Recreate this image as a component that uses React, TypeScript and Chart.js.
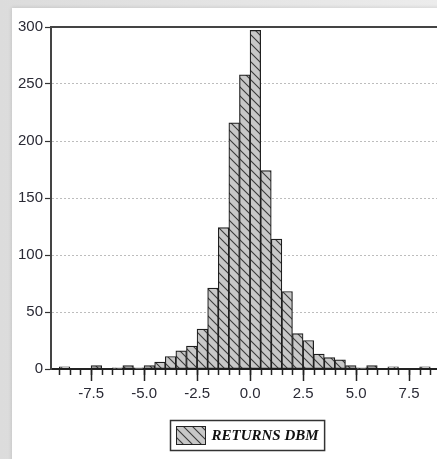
import { useEffect, useRef } from "react";
import { Chart, registerables } from "chart.js";

Chart.register(...registerables);

// Histogram bins: start of each bin (bin width 0.5)
const binStarts = [
  -9, -8.5, -8, -7.5, -7, -6.5, -6, -5.5, -5, -4.5, -4, -3.5, -3, -2.5, -2, -1.5,
  -1, -0.5, 0, 0.5, 1, 1.5, 2, 2.5, 3, 3.5, 4, 4.5, 5, 5.5, 6, 6.5, 7, 7.5, 8, 8.5,
];
const counts = [
  2, 0, 0, 3, 0, 1, 3, 1, 3, 6, 11, 16, 20, 35, 71, 124,
  216, 258, 297, 174, 114, 68, 31, 25, 13, 10, 8, 3, 1, 3, 0, 2, 0, 0, 2, 0,
];
const binWidth = 0.5;
const seriesLabel = "RETURNS DBM";
const xMin = -9.39;
const xMax = 8.96;
const yMax = 300;
const yStep = 50;
const xStep = 2.5;

function makePattern(): CanvasPattern | string {
  const c = document.createElement("canvas");
  c.width = 9;
  c.height = 9;
  const g = c.getContext("2d");
  if (!g) return "#c8c8c8";
  g.fillStyle = "#c8c8c8";
  g.fillRect(0, 0, 9, 9);
  g.strokeStyle = "#3a3a3a";
  g.lineWidth = 1.1;
  g.beginPath();
  g.moveTo(-1, -1);
  g.lineTo(10, 10);
  g.moveTo(-1, 8);
  g.lineTo(1, 10);
  g.moveTo(8, -1);
  g.lineTo(10, 1);
  g.stroke();
  return g.createPattern(c, "repeat") || "#c8c8c8";
}

export default function App() {
  const ref = useRef<HTMLCanvasElement | null>(null);

  useEffect(() => {
    if (!ref.current) return;
    const pattern = makePattern();

    const decor = {
      id: "decor",
      afterDraw(chart: any) {
        const { ctx, chartArea } = chart;
        const x = chart.scales.x;
        ctx.save();
        // minor tick marks at every bin edge
        ctx.strokeStyle = "#222";
        ctx.lineWidth = 1.5;
        ctx.beginPath();
        const edges = binStarts.concat([binStarts[binStarts.length - 1] + binWidth]);
        for (const e of edges) {
          const px = Math.round(x.getPixelForValue(e)) + 0.5;
          ctx.moveTo(px, chartArea.bottom);
          ctx.lineTo(px, chartArea.bottom + 6);
        }
        ctx.stroke();
        // top frame line
        ctx.strokeStyle = "#444";
        ctx.lineWidth = 2;
        ctx.beginPath();
        ctx.moveTo(chartArea.left - 1, chartArea.top);
        ctx.lineTo(chartArea.right + 10, chartArea.top);
        ctx.stroke();
        // legend
        const label = chart.data.datasets[0].label as string;
        ctx.font = 'bold italic 15px "Liberation Serif"';
        const tw = ctx.measureText(label).width;
        const sw = 29;
        const bw = 6 + sw + 6 + tw + 6;
        const bh = 30;
        const cx = (chartArea.left + chartArea.right) / 2 + 1.5;
        const bx = Math.round(cx - bw / 2) + 0.5;
        const by = chartArea.bottom + 51.5;
        ctx.fillStyle = "#fff";
        ctx.fillRect(bx, by, bw, bh);
        ctx.strokeStyle = "#333";
        ctx.lineWidth = 1.5;
        ctx.strokeRect(bx, by, bw, bh);
        ctx.fillStyle = pattern as any;
        ctx.fillRect(bx + 6, by + 6, sw, bh - 12);
        ctx.lineWidth = 1;
        ctx.strokeStyle = "#222";
        ctx.strokeRect(bx + 6, by + 6, sw, bh - 12);
        ctx.fillStyle = "#111";
        ctx.textBaseline = "middle";
        ctx.textAlign = "left";
        ctx.fillText(label, bx + 6 + sw + 6, by + bh / 2 + 1);
        ctx.restore();
      },
    };

    const chart = new Chart(ref.current, {
      type: "bar",
      data: {
        datasets: [
          {
            label: seriesLabel,
            data: binStarts.map((s, i) => ({ x: s + binWidth / 2, y: counts[i] })),
            backgroundColor: pattern as any,
            borderColor: "#1e1e1e",
            borderWidth: 1.2,
            borderSkipped: false,
            barPercentage: 1,
            categoryPercentage: 1,
          },
        ],
      },
      options: {
        animation: false,
        responsive: false,
        layout: { padding: { left: 0, top: 27, right: 5, bottom: 50 } },
        plugins: { legend: { display: false }, tooltip: { enabled: false } },
        scales: {
          x: {
            type: "linear",
            min: xMin,
            max: xMax,
            offset: false,
            afterFit: (s: any) => {
              s.height = 40;
            },
            grid: {
              drawOnChartArea: false,
              drawTicks: true,
              tickLength: 12,
              tickColor: "#222",
              tickWidth: 1.5,
              offset: false,
            },
            border: { color: "#222", width: 2 },
            ticks: {
              stepSize: xStep,
              includeBounds: false,
              autoSkip: false,
              maxRotation: 0,
              padding: 4,
              color: "#2a2a35",
              font: { family: '"Liberation Sans"', size: 15 },
              callback: (v: any) => Number(v).toFixed(1),
            },
          },
          y: {
            min: 0,
            max: yMax,
            afterFit: (s: any) => {
              s.width = 51;
            },
            grid: {
              color: (c: any) =>
                c.tick && (c.tick.value === 0 || c.tick.value === yMax) ? "rgba(0,0,0,0)" : "#bdbdbd",
              lineWidth: 1,
              tickColor: "#333",
              tickLength: 6,
              tickWidth: 1.2,
            },
            border: { color: "#444", width: 2, dash: [2, 2] },
            ticks: {
              stepSize: yStep,
              padding: 2,
              color: "#2a2a35",
              font: { family: '"Liberation Sans"', size: 15 },
            },
          },
        },
      },
      plugins: [decor],
    });
    return () => chart.destroy();
  }, []);

  return (
    <div
      style={{
        position: "fixed",
        left: 0,
        top: 0,
        width: 437,
        height: 459,
        overflow: "hidden",
        background: "linear-gradient(90deg, #dcdcdc, #ececec)",
      }}
    >
      <div
        style={{
          position: "absolute",
          left: 12,
          top: 8,
          width: 440,
          height: 460,
          background: "#fff",
          boxShadow: "0 0 4px rgba(0,0,0,0.15)",
        }}
      />
      <canvas
        ref={ref}
        width={445}
        height={459}
        style={{ position: "absolute", left: 0, top: 0, width: 445, height: 459 }}
      />
    </div>
  );
}
